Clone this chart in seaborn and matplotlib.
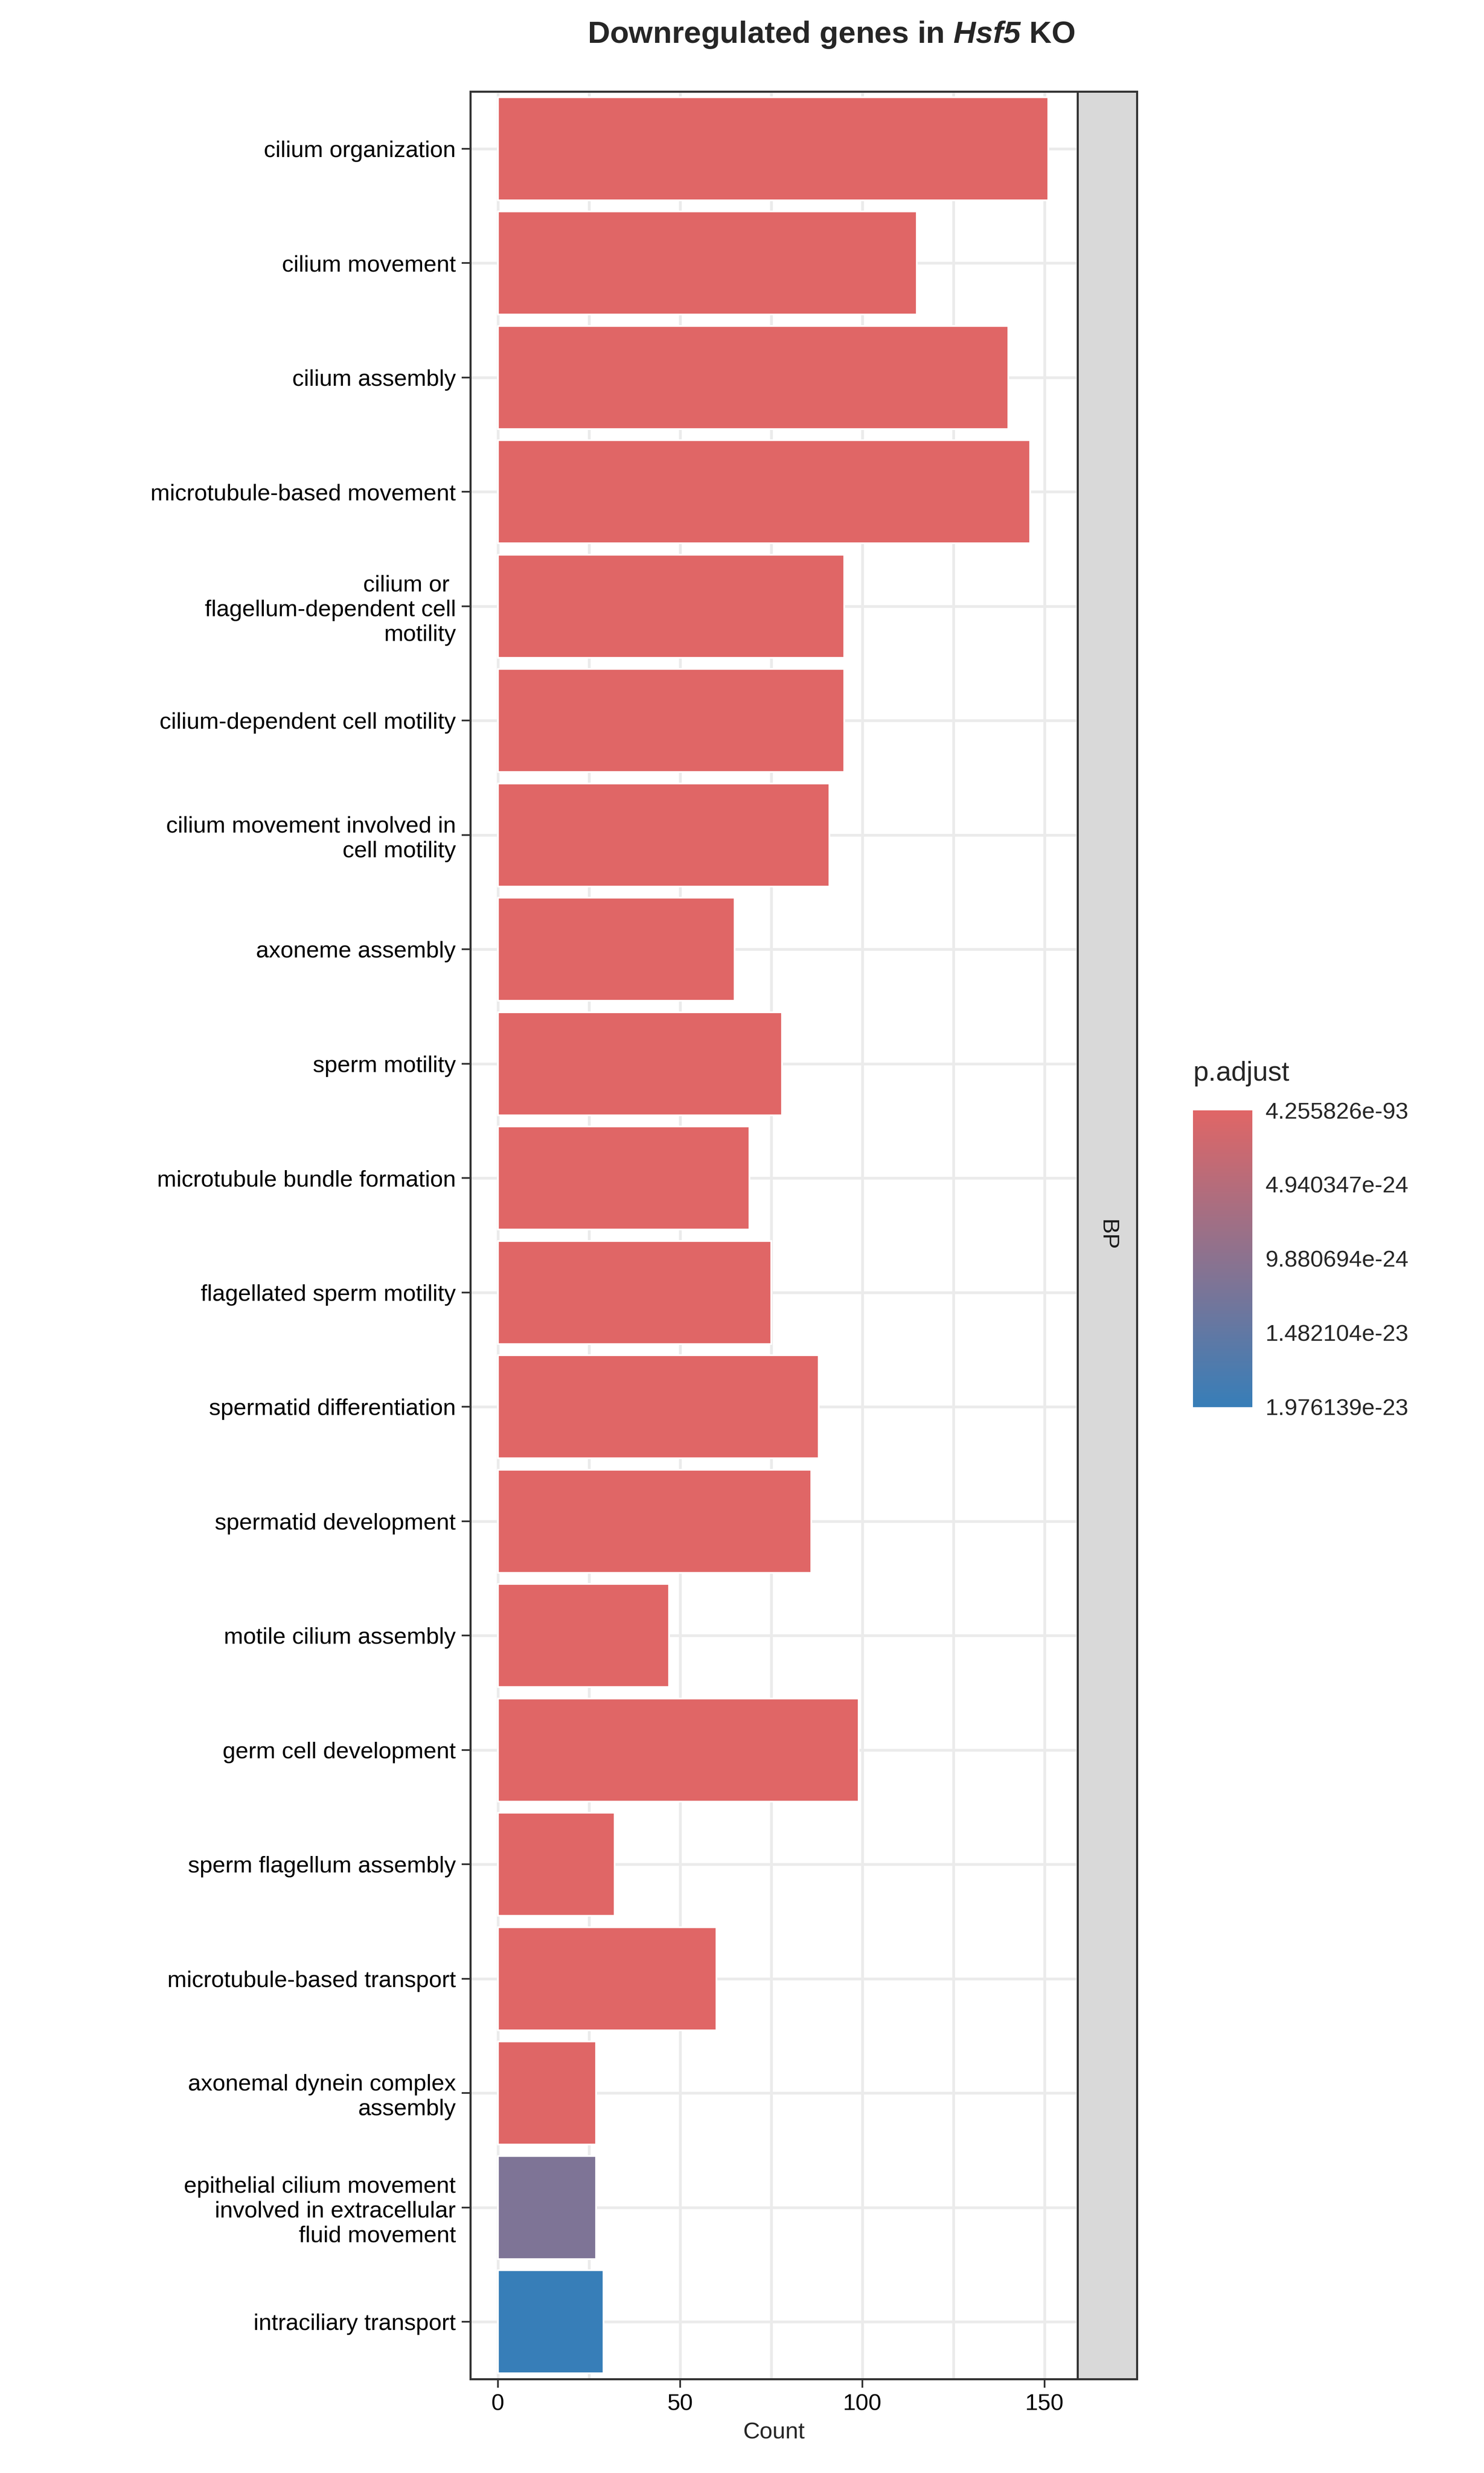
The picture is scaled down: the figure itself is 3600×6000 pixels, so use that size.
import matplotlib
matplotlib.use("Agg")
import matplotlib.pyplot as plt
import seaborn as sns
import pandas as pd
import numpy as np
from matplotlib.colors import LinearSegmentedColormap, Normalize
from matplotlib.cm import ScalarMappable

terms = ["cilium organization", "cilium movement", "cilium assembly",
         "microtubule-based movement", "cilium or \nflagellum-dependent cell\nmotility",
         "cilium-dependent cell motility", "cilium movement involved in\ncell motility",
         "axoneme assembly", "sperm motility", "microtubule bundle formation",
         "flagellated sperm motility", "spermatid differentiation", "spermatid development",
         "motile cilium assembly", "germ cell development", "sperm flagellum assembly",
         "microtubule-based transport", "axonemal dynein complex\nassembly",
         "epithelial cilium movement\ninvolved in extracellular\nfluid movement",
         "intraciliary transport"]
counts = [151, 115, 140, 146, 95, 95, 91, 65, 78, 69, 75, 88, 86, 47, 99, 32, 60, 27, 27, 29]
padj = [1e-90, 1e-80, 1e-85, 1e-70, 1e-60, 1e-60, 1e-58, 1e-50, 1e-45, 1e-40,
        1e-40, 1e-38, 1e-37, 1e-35, 1e-34, 1e-30, 1e-29, 1e-25, 1.15e-23, 1.976139e-23]
cb_ticks = [4.255826e-93, 4.940347e-24, 9.880694e-24, 1.482104e-23, 1.976139e-23]
cb_labels = ["4.255826e-93", "4.940347e-24", "9.880694e-24", "1.482104e-23", "1.976139e-23"]

sns.set_theme(style="white")
plt.rcParams['font.family'] = ['Liberation Sans', 'DejaVu Sans']
plt.rcParams['mathtext.fontset'] = 'custom'
plt.rcParams['mathtext.bfit'] = 'Liberation Sans:italic:bold'
plt.rcParams['mathtext.rm'] = 'Liberation Sans'

cmap = LinearSegmentedColormap.from_list("rb", ["#E06666", "#377EB8"])
norm = Normalize(vmin=cb_ticks[0], vmax=cb_ticks[-1])
df = pd.DataFrame({"term": terms, "Count": counts, "p": padj})
pal = {t: cmap(norm(p)) for t, p in zip(terms, padj)}

fig = plt.figure(figsize=(12, 20), dpi=300)
ax = fig.add_axes([0.317, 0.038, 0.409, 0.925])
sns.barplot(data=df, x="Count", y="term", hue="term", palette=pal, legend=False,
            width=0.9, ax=ax, saturation=1, zorder=3)
ax.set_xlim(-7.5, 159)
ax.set_ylim(len(terms) - 0.5, -0.5)
ax.set_xticks([0, 50, 100, 150])
ax.set_xticks([25, 75, 125], minor=True)
ax.grid(True, which="both", color="#EBEBEB", lw=1.6, zorder=0)
ax.set_axisbelow(True)
ax.set_ylabel("")
ax.set_xlabel("Count", fontsize=13.5)
ax.tick_params(axis="both", labelsize=13.5, length=5, width=1, color="#333333",
               left=True, bottom=True, labelcolor="black")
for s in ax.spines.values():
    s.set_color("#333333"); s.set_linewidth(1.2)

sax = fig.add_axes([0.726, 0.038, 0.040, 0.925])
sax.set_facecolor("#D9D9D9")
sax.set_xticks([]); sax.set_yticks([])
for s in sax.spines.values():
    s.set_color("#333333"); s.set_linewidth(1.2)
sax.text(0.5, 0.5, "BP", rotation=-90, ha="center", va="center", fontsize=13.5,
         color="#1A1A1A", transform=sax.transAxes)

cax = fig.add_axes([0.804, 0.431, 0.040, 0.120])
cb = fig.colorbar(ScalarMappable(norm=norm, cmap=cmap), cax=cax, ticks=cb_ticks)
cb.ax.set_yticklabels(cb_labels, fontsize=13.5)
cb.ax.invert_yaxis()
cb.outline.set_visible(False)
cb.ax.tick_params(length=4, color="white", width=1.2)
cax.text(0, 1.08, "p.adjust", transform=cax.transAxes, fontsize=16, ha="left", va="bottom")

fig.suptitle(r"Downregulated genes in $\bfit{Hsf5}$ KO", fontsize=18, fontweight="bold",
             x=0.56, y=0.992)
fig.savefig("out.png", dpi=300)
